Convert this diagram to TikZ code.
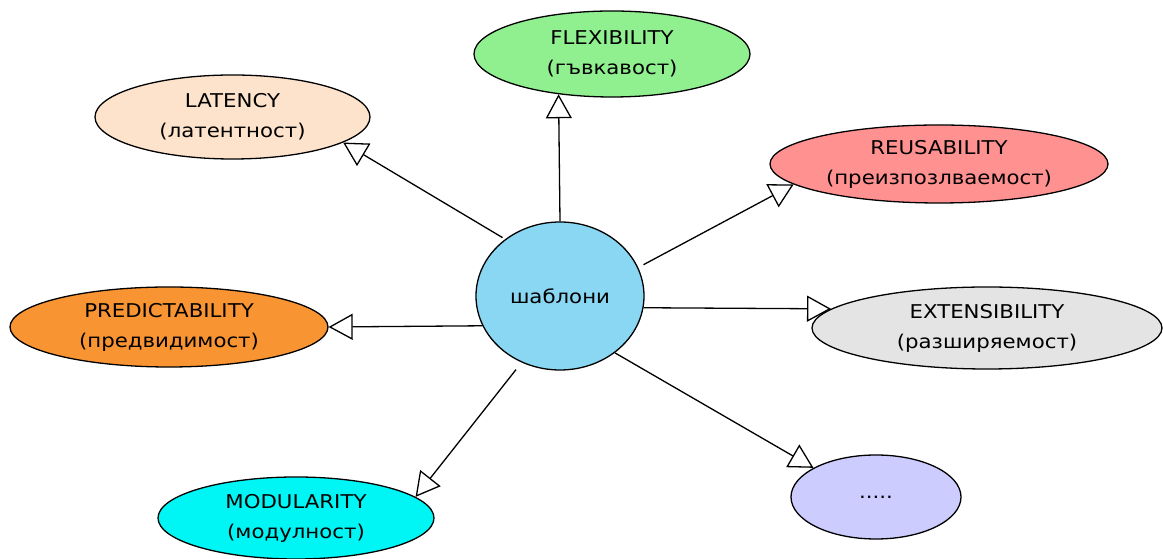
\documentclass[tikz,border=0pt]{standalone}
\usepackage{fontspec}
\setmainfont{DejaVu Sans}[FakeStretch=1.12]
\usetikzlibrary{shapes.geometric,arrows.meta}
\definecolor{cCenter}{RGB}{137,215,243}
\definecolor{cFlex}{RGB}{144,240,144}
\definecolor{cLat}{RGB}{253,227,203}
\definecolor{cReus}{RGB}{255,145,145}
\definecolor{cPred}{RGB}{249,148,51}
\definecolor{cExt}{RGB}{228,228,228}
\definecolor{cMod}{RGB}{0,245,245}
\definecolor{cDots}{RGB}{204,204,255}
\begin{document}
\begin{tikzpicture}[x=1pt,y=1pt,
  bubble/.style={ellipse, draw=black, line width=1.3pt, inner sep=0pt, align=center,
    font=\fontsize{19}{30}\selectfont},
  link/.style={draw=black, line width=1.3pt,
    -{Triangle[length=24pt,width=26pt,fill=white,line width=1.3pt]}}]
\useasboundingbox (0,0) rectangle (1163,559);

% central concept
\node[bubble, fill=cCenter, minimum width=168pt, minimum height=148pt] (c) at (560,263) {шаблони};

% quality attributes
\node[bubble, fill=cFlex, minimum width=276pt, minimum height=86pt] (flex) at (612,505) {FLEXIBILITY\\(гъвкавост)};
\node[bubble, fill=cLat, minimum width=275pt, minimum height=84pt] (lat) at (232.5,442) {LATENCY\\(латентност)};
\node[bubble, fill=cReus, minimum width=338pt, minimum height=78pt] (reus) at (939,395) {REUSABILITY\\(преизпозлваемост)};
\node[bubble, fill=cPred, minimum width=318pt, minimum height=80pt] (pred) at (169,232) {PREDICTABILITY\\(предвидимост)};
\node[bubble, fill=cExt, minimum width=350pt, minimum height=82pt] (ext) at (987,231) {EXTENSIBILITY\\(разширяемост)};
\node[bubble, fill=cMod, minimum width=276pt, minimum height=82pt] (mod) at (296,41) {MODULARITY\\(модулност)};
\node[bubble, fill=cDots, minimum width=170pt, minimum height=84pt] (dots) at (876,62) {.....};

% connectors
\draw[link, shorten <=3pt] (c.134.5) -- (lat.-13);
\draw[link] (c.90) -- (flex.217.7);
\draw[link, shorten <=6pt] (c.20.5) -- (reus.188);
\draw[link] (c.201.8) -- (pred.0);
\draw[link] (c.-8.8) -- (ext.173);
\draw[link, shorten <=9pt] (c.240.8) -- (mod.10.4);
\draw[link] (c.-46) -- (dots.155.3);
\end{tikzpicture}
\end{document}
